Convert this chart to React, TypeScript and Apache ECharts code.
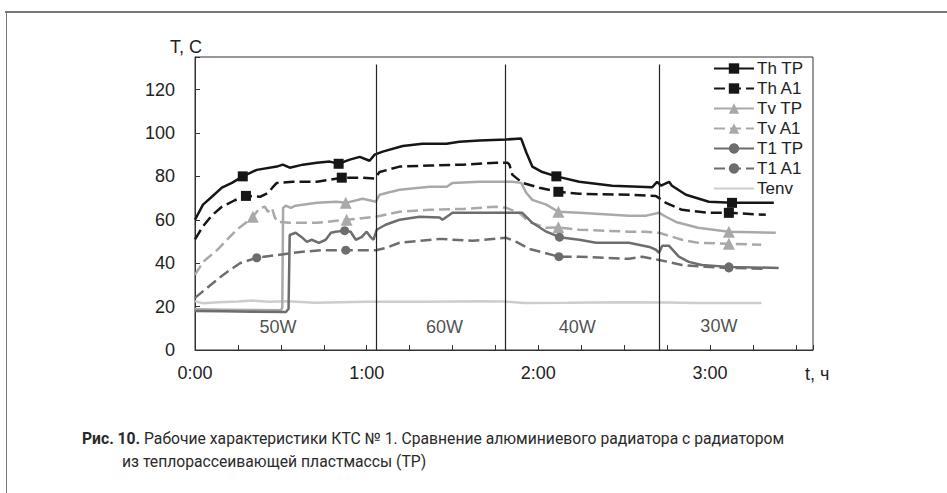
import React, { useEffect, useRef } from 'react';
import * as echarts from 'echarts';

type P = [number, number];

// time in minutes, temperature in °C
const thTP: P[] = [
  [0, 60], [2.8, 67], [5.9, 70.6], [9.4, 74.8], [12.9, 77], [16.7, 80], [21.6, 83], [28.6, 84.5],
  [30.7, 85.4], [33.1, 84], [37.7, 85.4], [42.6, 86.3], [47.1, 86.8], [50.2, 85.8], [54.1, 87.7],
  [57.6, 89], [61, 87.2], [62.8, 90], [65.6, 91.4], [72.6, 94], [79.5, 95], [87.9, 95], [92.4, 96],
  [99.4, 96.5], [108.8, 97], [114, 97.4], [115.8, 91], [117.9, 84.5], [121.4, 82], [126.3, 80],
  [134.3, 77.5], [145.8, 75.7], [159.8, 75], [161.5, 77.5], [162.9, 75.7], [165.7, 77.5],
  [166.7, 75.7], [171.6, 71.5], [179.6, 68.3], [187.7, 67.8], [202.3, 67.8],
];
const thTPMarks = [16.7, 50.2, 126.3, 187.7];

const thA1: P[] = [
  [0, 51], [2.8, 57], [5.9, 62], [9.4, 66], [13.9, 69], [17.8, 71], [22.7, 70.6], [25.5, 72.4],
  [27.2, 75], [28.6, 77], [34.2, 77.5], [42.6, 77.5], [51.3, 79.4], [58.6, 79.4], [62.8, 79],
  [64.5, 82], [71.5, 84.5], [82, 85], [93.5, 85.4], [105.3, 86.3], [109.2, 86.3], [109.9, 85.4],
  [110.9, 80.8], [114.4, 77], [120.3, 74.8], [127, 72.9], [134.3, 72], [151.7, 71.5], [161.1, 71],
  [164.6, 67.8], [170.2, 64.6], [179.6, 63.2], [186.6, 63.2], [199.5, 62.3],
];
const thA1Marks = [17.8, 51.3, 127, 186.6];

const tvTP: P[] = [
  [0, 18.8], [10, 18.6], [20, 18.4], [30, 18.3], [30.5, 19.5], [30.8, 65.5], [31.7, 66.5],
  [33.5, 65.5], [35.2, 66.5], [42.6, 67.8], [49.5, 68.3], [52.7, 67.8], [58.6, 69.7], [63.2, 68.3],
  [64.5, 71.5], [71.5, 73.8], [82, 75.2], [88, 75.2], [90, 77], [99.4, 77.5], [110.9, 77.5],
  [114, 77], [115.8, 72.4], [117.9, 69.2], [122.8, 67], [127, 63.7], [134.3, 63.2], [151.7, 61.8],
  [157.3, 61.8], [162.2, 63.2], [164.6, 61.4], [168.1, 59], [175.8, 56.3], [186.6, 54.5], [203, 54],
];
const tvTPMarks = [52.7, 127, 186.6];

const tvA1: P[] = [
  [0, 34.6], [2.8, 40.6], [7.7, 46], [11.2, 50.8], [14.6, 55.4], [18.1, 59], [20.2, 61.4],
  [22.7, 65.5], [24.4, 66], [25.5, 63.7], [26.9, 65.5], [27.9, 61], [29, 59], [33.1, 58.6],
  [42.6, 58.6], [53, 60], [63.2, 61.4], [71.5, 63.7], [82, 64.6], [93.5, 65], [105.3, 66],
  [108.8, 65.5], [113.3, 63.2], [116.8, 59], [122.8, 56.3], [127, 56.5], [134.3, 55.4],
  [151.7, 54.5], [157.3, 54.5], [162.2, 54], [170.2, 50.8], [175.8, 49.4], [186.6, 49], [197.9, 48.5],
];
const tvA1Marks = [20.2, 53, 127, 186.6];

const t1TP: P[] = [
  [0, 18], [10, 17.8], [20, 17.6], [31.8, 17.5], [32.7, 19], [33.1, 53], [35.2, 54], [37.3, 52],
  [39.1, 49.8], [40.8, 50.8], [43.3, 49.4], [45.7, 50.8], [47.5, 54], [49.2, 54.5], [52.3, 55],
  [54.4, 54.5], [56.2, 50.8], [58.2, 52], [60, 54.5], [61.4, 52], [62.4, 50.8], [63.5, 55.4],
  [66.6, 57.7], [71.5, 60], [78.5, 61.4], [85.5, 61], [86.5, 60], [90, 63.2], [99.4, 63.2],
  [110.9, 63.2], [114.4, 63.2], [117.9, 58.6], [122.8, 54.5], [127.4, 52], [134.3, 50.8],
  [140.2, 49.4], [151.7, 49.4], [158.8, 47.5], [161.1, 46.2], [162.2, 44.8], [163.3, 48],
  [165.7, 48], [169.1, 43], [172.6, 40.6], [177.1, 39.2], [186.6, 38.3], [204, 37.8],
];
const t1TPMarks = [52.3, 127.4, 186.6];

const t1A1: P[] = [
  [0, 24], [4.2, 28.6], [9.8, 34.6], [15.7, 40], [21.6, 42.5], [28.9, 43.8], [36.9, 45.2],
  [44.9, 46], [52.7, 46], [63.2, 46], [66.6, 47], [71.5, 49.4], [85.5, 51.2], [97, 50.3],
  [108.8, 51.7], [112.3, 49.8], [116.8, 46.6], [127.2, 43], [134.3, 43], [151.7, 42], [156.3, 43],
  [162.2, 41.5], [170.2, 39.2], [178.5, 38.3], [186.6, 37.8], [199.5, 37.4],
];
const t1A1Marks = [21.6, 52.7, 127.2, 186.6];

const tEnv: P[] = [
  [0, 22.5], [3, 21.5], [8, 22], [15, 22.3], [20, 22.8], [26, 22.2], [32, 22.5], [42, 21.8],
  [60, 22.2], [80, 22.2], [100, 22.5], [108, 22.3], [115, 21.7], [130, 21.8], [150, 22],
  [165, 21.9], [175, 21.6], [198, 21.6],
];

const dividerTimes = [63.5, 108.5, 162.2];
const powerLabels = ['50W', '60W', '40W', '30W'];
const powerLabelTimes = [29, 87.2, 133.6, 183.1];
const powerLabelTemp = [10.5, 10.5, 10.5, 11];

const yTicks = [0, 20, 40, 60, 80, 100, 120];
const xLabelMinutes = [0, 60, 120, 180];

const FONT = '"Liberation Sans", Arial, Helvetica, sans-serif';

function withMarks(points: P[], marks: number[]) {
  return points.map(([t, v]) =>
    marks.includes(t) ? { value: [t, v] } : { value: [t, v], symbol: 'none' }
  );
}

export default function App() {
  const ref = useRef<HTMLDivElement>(null);

  useEffect(() => {
    if (!ref.current) return;
    const chart = echarts.init(ref.current, null, { renderer: 'svg' });

    const black = '#161616';
    const light = '#a9a9a9';
    const dark = '#6d6d6d';
    const env = '#cdcdcd';
    const dash: number[] = [11, 5];

    const mkSeries = (
      name: string,
      pts: P[],
      marks: number[],
      color: string,
      symbol: string,
      size: number,
      dashed: boolean
    ) => ({
      name,
      type: 'line',
      data: withMarks(pts, marks),
      symbol,
      symbolSize: size,
      showAllSymbol: true,
      color,
      itemStyle: { color },
      lineStyle: { color, width: 2.5, type: dashed ? dash : 'solid' },
      z: 3,
    });

    const option: any = {
      animation: false,
      backgroundColor: '#ffffff',
      textStyle: { fontFamily: FONT },
      grid: {
        left: 195,
        top: 57,
        right: 134,
        bottom: 143,
        show: true,
        borderColor: '#333',
        borderWidth: 1,
        backgroundColor: 'transparent',
      },
      legend: {
        orient: 'vertical',
        left: 713,
        top: 60,
        padding: 0,
        itemWidth: 40,
        itemHeight: 13,
        itemGap: 3,
        textStyle: {
          fontFamily: FONT,
          fontSize: 17,
          lineHeight: 17,
          color: '#222',
          padding: [0, 0, 0, -2],
        },
        data: [
          'Th TP',
          'Th A1',
          'Tv TP',
          'Tv A1',
          'T1 TP',
          'T1 A1',
          { name: 'Tenv', itemStyle: { opacity: 0, color: 'rgba(0,0,0,0)' } },
        ],
      },
      xAxis: {
        type: 'value',
        min: 0,
        max: 216,
        interval: 15,
        axisLine: { show: true, lineStyle: { color: '#333', width: 1 } },
        axisTick: { show: true, inside: true, length: 5, lineStyle: { color: '#333' } },
        splitLine: { show: false },
        axisLabel: {
          margin: 14,
          fontSize: 18,
          fontFamily: FONT,
          color: '#222',
          formatter: (v: number) => (xLabelMinutes.includes(v) ? `${v / 60}:00` : ''),
        },
      },
      yAxis: {
        type: 'value',
        min: 0,
        max: 135,
        interval: 20,
        axisLine: { show: true, lineStyle: { color: '#333', width: 1 } },
        axisTick: { show: true, inside: true, length: 5, lineStyle: { color: '#333' } },
        splitLine: { show: false },
        axisLabel: {
          margin: 20,
          fontSize: 18,
          fontFamily: FONT,
          color: '#222',
          formatter: (v: number) => (yTicks.includes(v) ? String(v) : ''),
        },
      },
      series: [
        mkSeries('Th TP', thTP, thTPMarks, black, 'rect', 10, false),
        mkSeries('Th A1', thA1, thA1Marks, black, 'rect', 10, true),
        mkSeries('Tv TP', tvTP, tvTPMarks, light, 'triangle', 12, false),
        mkSeries('Tv A1', tvA1, tvA1Marks, light, 'triangle', 12, true),
        mkSeries('T1 TP', t1TP, t1TPMarks, dark, 'circle', 9, false),
        mkSeries('T1 A1', t1A1, t1A1Marks, dark, 'circle', 9, true),
        {
          name: 'Tenv',
          type: 'line',
          data: tEnv,
          symbol: 'circle',
          showSymbol: false,
          color: env,
          itemStyle: { color: env },
          lineStyle: { color: env, width: 2.5 },
          z: 2,
        },
        {
          name: 'power',
          type: 'scatter',
          symbolSize: 0,
          silent: true,
          data: powerLabels.map((p, i) => [powerLabelTimes[i], powerLabelTemp[i], p]),
          label: {
            show: true,
            position: 'inside',
            fontSize: 18,
            fontFamily: FONT,
            color: '#222',
            formatter: (p: any) => p.data[2],
          },
          markLine: {
            silent: true,
            symbol: 'none',
            label: { show: false },
            lineStyle: { color: '#222', width: 1.2, type: 'solid' },
            data: dividerTimes.map((t) => [{ coord: [t, 0] }, { coord: [t, 131.5] }]),
          },
          z: 1,
        },
      ],
      graphic: [
        {
          type: 'line',
          shape: { x1: 5, y1: 12, x2: 947, y2: 12 },
          style: { stroke: '#777', lineWidth: 2 },
        },
        {
          type: 'line',
          shape: { x1: 6.5, y1: 12, x2: 6.5, y2: 493 },
          style: { stroke: '#777', lineWidth: 1 },
        },
        {
          type: 'text',
          left: 170,
          top: 38,
          style: { text: 'T, C', font: `18px ${FONT}`, fill: '#222' },
        },
        {
          type: 'text',
          left: 805,
          top: 365,
          style: { text: 't, ч', font: `18px ${FONT}`, fill: '#222' },
        },
        {
          type: 'text',
          left: 82,
          top: 430,
          style: {
            text: '{b|Рис. 10.} Рабочие характеристики КТС № 1. Сравнение алюминиевого радиатора с радиатором',
            font: '15.7px Roboto, sans-serif',
            fill: '#2a2a2a',
            rich: { b: { fontWeight: 'bold', fontSize: 15.7, fontFamily: 'Roboto, sans-serif', fill: '#2a2a2a' } },
          },
        },
        {
          type: 'text',
          left: 122,
          top: 453,
          style: { text: 'из теплорассеивающей пластмассы (ТР)', font: '15.7px Roboto, sans-serif', fill: '#2a2a2a' },
        },
      ],
    };

    chart.setOption(option);
    return () => chart.dispose();
  }, []);

  return (
    <div
      ref={ref}
      style={{ position: 'fixed', left: 0, top: 0, width: 947, height: 493, background: '#fff' }}
    />
  );
}
